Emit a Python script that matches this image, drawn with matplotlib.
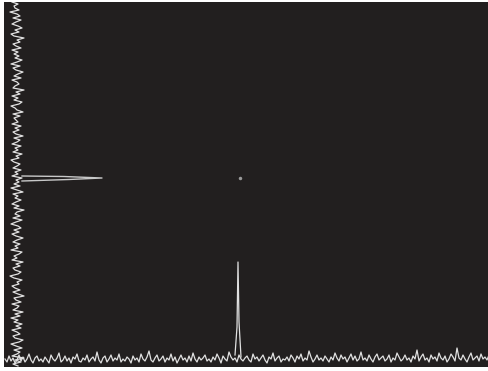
import matplotlib
matplotlib.use("Agg")
import matplotlib.pyplot as plt
import numpy as np

# bottom trace: noise sampled every 2 px, plus one sharp peak
bottom_noise = [
    8, 5, 11, 6, 9, 4, 7, 12, 6, 10, 5, 8, 13, 7, 4, 9, 11, 6, 8, 5,
    10, 7, 4, 12, 8, 6, 9, 14, 5, 7, 11, 6, 9, 4, 10, 8, 13, 6, 5, 9,
    7, 12, 5, 8, 10, 6, 15, 7, 4, 9, 11, 5, 8, 12, 6, 9, 7, 13, 5, 8,
    6, 10, 8, 4, 11, 7, 9, 5, 13, 8, 6, 10, 16, 7, 5, 9, 12, 6, 8, 11,
    5, 9, 7, 13, 6, 10, 4, 8, 12, 7, 9, 5, 11, 6, 14, 8, 5, 10, 7, 9,
    12, 6, 8, 5, 10, 7, 13, 9, 4, 11, 8, 6, 15, 10, 7, 9, 5, 12, 8, 6,
    9, 11, 7, 5, 13, 8, 10, 6, 9, 12, 7, 4, 10, 8, 14, 6, 9, 11, 5, 8,
    7, 10, 6, 12, 9, 5, 11, 8, 13, 6, 9, 7, 16, 10, 5, 8, 12, 7, 9, 6,
    11, 8, 5, 10, 7, 14, 9, 6, 12, 8, 10, 5, 9, 13, 7, 11, 6, 8, 15, 7,
    9, 6, 12, 8, 5, 10, 13, 7, 9, 11, 6, 8, 12, 5, 9, 7, 14, 10, 6, 8,
    12, 7, 9, 5, 11, 8, 17, 6, 10, 13, 7, 9, 5, 12, 8, 10, 6, 14, 9, 7,
    11, 5, 8, 13, 10, 6, 19, 9, 7, 12, 8, 5, 10, 14, 7, 9, 11, 6, 13, 8,
    10, 7, 12]
bottom_peak_x = [231, 233, 234, 235, 237]
bottom_peak_y = [12, 40, 105, 45, 10]

# left trace: noise sampled every 2 px along y, plus a horizontal peak
left_noise = [
    14, 9, 17, 11, 20, 8, 13, 16, 10, 18, 12, 7, 15, 19, 11, 9, 16, 13, 8, 17,
    12, 18, 10, 14, 7, 16, 11, 19, 9, 13, 15, 8, 17, 12, 10, 20, 14, 9, 16, 11,
    8, 15, 13, 18, 10, 6, 14, 17, 11, 9, 16, 12, 19, 8, 13, 10, 15, 18, 7, 14,
    11, 16, 9, 13, 19, 12, 8, 15, 10, 17, 14, 7, 12, 18, 9, 16, 11, 13, 20, 10,
    15, 8, 12, 17, 11, 14, 9, 19, 13, 7, 16, 10, 15, 12, 18, 8, 14, 11, 17, 9,
    13, 16, 10, 7, 15, 12, 18, 9, 14, 11, 17, 8, 13, 16, 10, 19, 12, 9, 15, 11,
    17, 8, 14, 12, 10, 16, 9, 19, 13, 11, 7, 15, 18, 10, 14, 8, 16, 12, 20, 9,
    11, 15, 13, 8, 17, 10, 14, 19, 12, 9, 16, 7, 13, 18, 11, 15, 10, 14, 8, 17,
    12, 9, 16, 13, 20, 10, 7, 15, 11, 18, 14, 8, 12, 17, 9, 16, 13, 6, 15, 11,
    10, 14, 8]
left_peak_x = [18, 60, 98, 65, 18]
left_peak_y = [191, 190.5, 189, 187.5, 186]

# faint spot in the middle
spot_x = [236]
spot_y = [189]

bx = 1 + 2 * np.arange(len(bottom_noise))
ly = 1 + 2 * np.arange(len(left_noise))

fig = plt.figure(figsize=(4.89, 3.71), dpi=100)
fig.patch.set_facecolor("white")
ax = fig.add_axes([4 / 489, 4 / 371, 485 / 489, 365 / 371])
ax.set_facecolor("#221f1f")

col = "#e0e0e0"
ax.plot(bx, bottom_noise, color=col, lw=0.9)
ax.plot(bottom_peak_x, bottom_peak_y, color=col, lw=0.9)
ax.plot(left_noise, ly, color=col, lw=0.9)
ax.plot(left_peak_x, left_peak_y, color="#c8c8c8", lw=1.0)
ax.plot(spot_x, spot_y, "o", color="#9a9a9a", ms=2.5, mec="none")

ax.set_xlim(0, 485)
ax.set_ylim(0, 365)
ax.set_xticks([])
ax.set_yticks([])
for s in ax.spines.values():
    s.set_visible(False)

fig.savefig("out.png", dpi=100, facecolor=fig.get_facecolor())
